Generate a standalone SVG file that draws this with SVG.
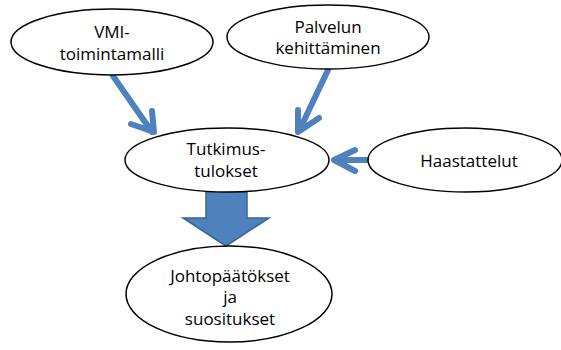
<svg xmlns="http://www.w3.org/2000/svg" width="561" height="350" viewBox="0 0 561 350">
<style>
.node ellipse{fill:#fff;stroke:#000;stroke-width:1.5}
.node text{font-family:"Open Sans","Liberation Sans",sans-serif;font-size:17px;fill:#000;text-anchor:middle}
.conn{fill:none;stroke:#4F81BD;stroke-width:6;stroke-linecap:round;stroke-linejoin:round}
</style>
<rect width="561" height="350" fill="#fff"/>
<g id="connectors">
<path class="conn" d="M113 76 L152 132 M152 111 L154 132 L131 124"/>
<path class="conn" d="M328 70 L299 131 M298 110 L298 132 L319 118"/>
<path class="conn" d="M367 160 L334 160 M355 150 L334 160 L355 171"/>
<path d="M206 192 H247 V218 H269 L226 246 L183 218 H206 Z" fill="#4F81BD" stroke="#3A6496" stroke-width="1.5"/>
</g>
<g id="vmi" class="node"><ellipse cx="112" cy="42" rx="101" ry="33"/><text x="112" y="38">VMI-</text><text x="112" y="60">toimintamalli</text></g>
<g id="palvelun" class="node"><ellipse cx="328" cy="37" rx="101" ry="32"/><text x="328" y="33">Palvelun</text><text x="328" y="54">kehittäminen</text></g>
<g id="haastattelut" class="node"><ellipse cx="465" cy="160" rx="97" ry="32"/><text x="469" y="167">Haastattelut</text></g>
<g id="tutkimus" class="node"><ellipse cx="227" cy="160" rx="102" ry="32"/><text x="226" y="155">Tutkimus-</text><text x="226" y="177">tulokset</text></g>
<g id="johto" class="node"><ellipse cx="229" cy="294" rx="103" ry="48"/><text x="230" y="282">Johtopäätökset</text><text x="230" y="303">ja</text><text x="230" y="325">suositukset</text></g>
</svg>
